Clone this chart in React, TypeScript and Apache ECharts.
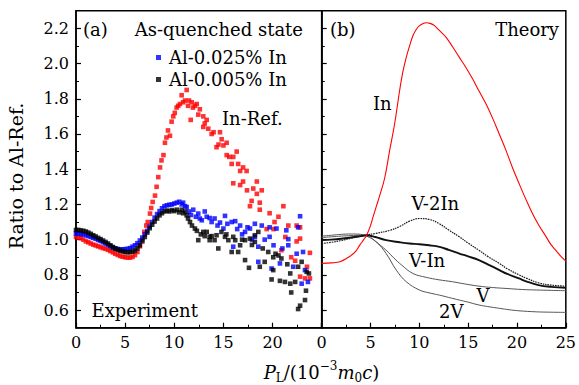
import React, { useEffect, useRef } from "react";
import * as echarts from "echarts";

const SERIF = "DejaVu Serif";

// ---- axis ticks ----
const xMajor = [0, 5, 10, 15, 20, 25];
const yMajor = [0.6, 0.8, 1.0, 1.2, 1.4, 1.6, 1.8, 2.0, 2.2];
const yMinor = [0.7, 0.9, 1.1, 1.3, 1.5, 1.7, 1.9, 2.1];

// ---- panel (a): experiment ----
const redPoints: number[][] = [
  [0, 1.015], [0.25, 1.012], [0.5, 1.008], [0.75, 1.0], [1.0, 0.99], [1.25, 0.985], [1.5, 0.978], [1.75, 0.972],
  [2.0, 0.967], [2.25, 0.962], [2.5, 0.957], [2.75, 0.952], [3.0, 0.948], [3.25, 0.942], [3.5, 0.935], [3.75, 0.928],
  [4.0, 0.92], [4.25, 0.913], [4.5, 0.907], [4.75, 0.903], [5.0, 0.9], [5.25, 0.898], [5.5, 0.898], [5.75, 0.902],
  [6.0, 0.912], [6.25, 0.93], [6.5, 0.962], [6.75, 1.0], [6.95, 1.044], [7.15, 1.08], [7.3, 1.1], [7.53, 1.148],
  [7.65, 1.18], [7.8, 1.214], [8.04, 1.25], [8.2, 1.3], [8.37, 1.355], [8.55, 1.41], [8.7, 1.45], [8.9, 1.48],
  [9.05, 1.55], [9.2, 1.58], [9.36, 1.62], [9.56, 1.59], [9.73, 1.67], [9.9, 1.7], [10.05, 1.72], [10.24, 1.75],
  [10.4, 1.76], [10.58, 1.77], [10.75, 1.82], [10.9, 1.78], [11.09, 1.79], [11.26, 1.85], [11.4, 1.76], [11.5, 1.79],
  [11.67, 1.68], [11.77, 1.78], [11.9, 1.75], [12.1, 1.76], [12.28, 1.77], [12.44, 1.71], [12.6, 1.74], [12.95, 1.7],
  [12.95, 1.64], [13.1, 1.66], [13.3, 1.68], [13.46, 1.63], [13.8, 1.6], [14.0, 1.61], [14.3, 1.525], [14.5, 1.54],
  [14.65, 1.61], [14.82, 1.57], [15.0, 1.535], [15.33, 1.55], [15.33, 1.48], [15.6, 1.47], [16.0, 1.47], [16.35, 1.5],
  [15.84, 1.43], [16.5, 1.43], [16.7, 1.39], [17.0, 1.41], [17.36, 1.39], [16.0, 1.32], [17.0, 1.33], [16.7, 1.31],
  [17.4, 1.28], [18.04, 1.29], [18.4, 1.33], [18.9, 1.28], [18.4, 1.26], [17.87, 1.22], [18.7, 1.21], [17.7, 1.19],
  [18.7, 1.17], [19.4, 1.06], [19.7, 1.15], [20.1, 1.06], [20.2, 1.1], [20.6, 1.13], [21.1, 1.19], [21.3, 1.015],
  [21.6, 1.08], [20.9, 0.94], [21.9, 0.9], [22.3, 0.88], [22.45, 0.99], [22.45, 1.08], [22.8, 1.07], [22.8, 1.006],
  [22.8, 0.79], [23.3, 0.78], [23.5, 0.846], [23.8, 0.925], [23.8, 0.78],
];

const bluePoints: number[][] = [
  [0, 1.035], [0.25, 1.034], [0.5, 1.032], [0.75, 1.03], [1.0, 1.025], [1.25, 1.02], [1.5, 1.015], [1.75, 1.01],
  [2.0, 1.005], [2.25, 0.998], [2.5, 0.992], [2.75, 0.985], [3.0, 0.978], [3.25, 0.97], [3.5, 0.963], [3.75, 0.956],
  [4.0, 0.95], [4.25, 0.947], [4.5, 0.945], [4.75, 0.945], [5.0, 0.946], [5.25, 0.948], [5.5, 0.952], [5.75, 0.96],
  [6.0, 0.968], [6.25, 0.98], [6.5, 0.995], [6.75, 1.012], [7.0, 1.03], [7.25, 1.05], [7.5, 1.075], [7.75, 1.1],
  [8.0, 1.125], [8.25, 1.145], [8.5, 1.162], [8.75, 1.178], [9.0, 1.19], [9.25, 1.195], [9.5, 1.198], [9.75, 1.2],
  [10.0, 1.205], [10.25, 1.21], [10.5, 1.215], [10.75, 1.2], [10.9, 1.21], [11.1, 1.19], [11.26, 1.185], [11.5, 1.16],
  [11.7, 1.14], [11.93, 1.17], [12.2, 1.13], [12.44, 1.148], [12.6, 1.12], [12.8, 1.11], [13.1, 1.16], [13.3, 1.13],
  [13.6, 1.123], [13.8, 1.1], [14.1, 1.12], [14.4, 1.08], [14.65, 1.097], [15.0, 1.063], [15.16, 1.135], [15.4, 1.09],
  [15.84, 1.1], [16.0, 0.96], [16.2, 1.105], [16.4, 1.06], [16.7, 1.08], [16.9, 1.03], [17.2, 1.044], [17.45, 1.07],
  [17.7, 1.063], [17.9, 1.0], [18.2, 1.09], [18.2, 1.016], [18.55, 0.96], [18.55, 0.874], [18.9, 1.08], [19.2, 1.0],
  [19.7, 1.07], [19.7, 1.016], [19.9, 0.836], [20.1, 0.968], [20.4, 1.063], [20.75, 0.865], [21.0, 0.95], [21.4, 1.053],
  [21.6, 1.003], [21.6, 0.968], [22.1, 0.846], [22.45, 0.92], [22.6, 1.07], [22.8, 1.133], [22.96, 0.75], [23.1, 0.93],
  [23.3, 0.827], [23.6, 0.76],
];

const blackPoints: number[][] = [
  [0, 1.055], [0.25, 1.055], [0.5, 1.052], [0.75, 1.05], [1.0, 1.046], [1.25, 1.04], [1.5, 1.033], [1.75, 1.025],
  [2.0, 1.018], [2.25, 1.01], [2.5, 1.003], [2.75, 0.995], [3.0, 0.987], [3.25, 0.978], [3.5, 0.968], [3.75, 0.958],
  [4.0, 0.95], [4.25, 0.943], [4.5, 0.937], [4.75, 0.933], [5.0, 0.93], [5.25, 0.928], [5.5, 0.929], [5.75, 0.932],
  [6.0, 0.938], [6.25, 0.95], [6.5, 0.968], [6.75, 0.99], [7.0, 1.015], [7.25, 1.04], [7.5, 1.065], [7.75, 1.085],
  [8.0, 1.103], [8.25, 1.12], [8.5, 1.138], [8.75, 1.15], [9.0, 1.16], [9.25, 1.165], [9.5, 1.16], [9.75, 1.168],
  [10.0, 1.162], [10.25, 1.17], [10.5, 1.155], [10.75, 1.17], [10.9, 1.15], [11.1, 1.16], [11.26, 1.138], [11.4, 1.12],
  [11.6, 1.1], [11.8, 1.08], [12.1, 1.063], [12.3, 1.05], [12.44, 0.997], [12.7, 1.03], [12.95, 1.044], [13.1, 1.02],
  [13.3, 1.044], [13.6, 1.016], [13.6, 0.997], [13.8, 1.02], [14.1, 0.997], [14.3, 1.025], [14.48, 0.95], [14.8, 1.044],
  [15.16, 1.016], [15.3, 1.03], [15.5, 0.997], [15.84, 0.93], [16.0, 1.016], [16.2, 0.997], [16.5, 0.93], [16.7, 0.968],
  [16.9, 1.0], [17.2, 0.997], [17.2, 0.884], [17.6, 0.84], [17.7, 1.006], [17.9, 0.97], [18.2, 0.987], [18.2, 1.025],
  [18.55, 1.044], [18.7, 0.846], [19.0, 0.95], [19.2, 0.874], [19.56, 0.93], [19.9, 0.774], [20.07, 0.9], [20.07, 0.827],
  [20.3, 0.92], [20.6, 0.91], [20.75, 0.766], [20.9, 0.893], [21.26, 0.76], [21.5, 0.86], [21.8, 0.75], [21.8, 0.808],
  [21.9, 0.7], [22.3, 0.76], [22.6, 0.846], [22.6, 0.606], [22.8, 0.625], [22.96, 0.874], [23.3, 0.657], [23.4, 0.71],
  [23.47, 0.817], [23.7, 0.808],
];

// ---- panel (b): theory ----
const inCurve: number[][] = [
  [0, 0.865], [1, 0.868], [1.87, 0.874], [2.9, 0.906], [3.5, 0.935], [3.9, 0.969], [4.3, 1.0], [4.6, 1.025],
  [5.0, 1.08], [5.26, 1.129], [5.6, 1.19], [5.94, 1.25], [6.45, 1.35], [6.96, 1.507], [7.47, 1.658], [7.98, 1.847],
  [8.3, 1.95], [8.66, 2.035], [9.0, 2.1], [9.34, 2.158], [9.7, 2.195], [10.02, 2.215], [10.4, 2.228], [10.7, 2.232],
  [11.1, 2.228], [11.55, 2.215], [12.1, 2.185], [12.74, 2.149], [13.4, 2.095], [14.1, 2.035], [14.8, 1.975], [15.45, 1.913],
  [16.1, 1.845], [16.82, 1.771], [17.5, 1.69], [18.18, 1.6], [18.85, 1.51], [19.53, 1.41], [20.2, 1.32], [20.9, 1.23],
  [21.57, 1.15], [22.25, 1.08], [22.94, 1.02], [23.5, 0.97], [23.96, 0.94], [24.5, 0.905], [25, 0.878],
];
const v2InCurve: number[][] = [
  [0, 0.978], [1, 0.985], [2, 0.995], [3, 1.008], [4, 1.02], [4.6, 1.027], [5.5, 1.035], [7, 1.053], [8, 1.075],
  [9, 1.105], [10, 1.12], [11, 1.115], [12.06, 1.09], [13, 1.055], [14.1, 1.016], [15, 0.98], [16.1, 0.94], [17, 0.905],
  [18.2, 0.865], [19, 0.835], [20.2, 0.8], [21, 0.78], [22.2, 0.755], [23.5, 0.742], [25, 0.736],
];
const vInCurve: number[][] = [
  [0, 0.997], [1, 1.0], [2, 1.005], [3, 1.012], [4, 1.02], [4.6, 1.025], [5.5, 1.015], [6.6, 0.997], [8, 0.985],
  [9, 0.978], [10, 0.974], [11, 0.968], [12.06, 0.959], [13, 0.942], [14.1, 0.921], [15, 0.905], [16.1, 0.884], [17, 0.86],
  [18.2, 0.827], [19, 0.805], [20.2, 0.78], [21, 0.762], [22.2, 0.742], [23.5, 0.732], [25, 0.727],
];
const vCurve: number[][] = [
  [0, 1.012], [1, 1.016], [2, 1.02], [3, 1.023], [4, 1.025], [4.6, 1.025], [5.5, 0.99], [6.6, 0.94], [7.4, 0.895],
  [8.2, 0.855], [9.34, 0.808], [10.7, 0.786], [12, 0.772], [13.4, 0.761], [14.7, 0.748], [16.1, 0.736], [17.5, 0.728],
  [18.86, 0.723], [20.5, 0.717], [22, 0.714], [23.5, 0.712], [25, 0.71],
];
const v2Curve: number[][] = [
  [0, 1.02], [1, 1.025], [2, 1.03], [3, 1.032], [4, 1.03], [4.6, 1.02], [5.6, 0.987], [6.6, 0.921], [7.64, 0.827],
  [8.66, 0.761], [10.0, 0.714], [11, 0.698], [12.06, 0.685], [13, 0.672], [14.1, 0.657], [15, 0.645], [16.1, 0.629],
  [17, 0.62], [18.2, 0.61], [19.2, 0.602], [20.2, 0.596], [22, 0.59], [23.5, 0.588], [25, 0.587],
];

const seriesNames = ["In-Ref.", "Al-0.025% In", "Al-0.005% In"];

function xAxisOf(grid: number, hideLast: boolean) {
  return {
    gridIndex: grid,
    type: "value",
    min: 0,
    max: 25,
    interval: 5,
    axisLine: { show: true, onZero: false, lineStyle: { color: "#000", width: 1.5 } },
    axisTick: { show: true, inside: true, length: 5, lineStyle: { color: "#000", width: 1.2 } },
    minorTick: { show: true, splitNumber: 2, length: 3, lineStyle: { color: "#000", width: 1 } },
    axisLabel: {
      color: "#000",
      fontFamily: SERIF,
      fontSize: 16,
      margin: 7,
      formatter: (v: number) => (hideLast && v === 25 ? "" : String(v)),
    },
    splitLine: { show: false },
    minorSplitLine: { show: false },
  };
}

function yAxesOf(grid: number, labels: boolean) {
  return [
    {
      gridIndex: grid,
      type: "value",
      position: "left",
      min: 0.5,
      max: 2.3,
      axisLine: { show: true, onZero: false, lineStyle: { color: "#000", width: 1.5 } },
      axisTick: { show: true, inside: true, length: 5, customValues: yMajor, lineStyle: { color: "#000", width: 1.2 } },
      axisLabel: {
        show: labels,
        customValues: yMajor,
        color: "#000",
        fontFamily: SERIF,
        fontSize: 16,
        margin: 7,
        formatter: (v: number) => v.toFixed(1),
      },
      splitLine: { show: false },
    },
    {
      gridIndex: grid,
      type: "value",
      position: "left",
      min: 0.5,
      max: 2.3,
      axisLine: { show: false },
      axisTick: { show: true, inside: true, length: 3, customValues: yMinor, lineStyle: { color: "#000", width: 1 } },
      axisLabel: { show: false },
      splitLine: { show: false },
    },
  ];
}

function label(text: string, x: number, y: number, align: string = "left", size = 18) {
  return {
    type: "text",
    x,
    y,
    silent: true,
    style: {
      text,
      fill: "#000",
      fontFamily: SERIF,
      fontSize: size,
      textAlign: align,
      align,
      textVerticalAlign: "middle",
      verticalAlign: "middle",
    },
  };
}

export default function App() {
  const ref = useRef<HTMLDivElement>(null);
  useEffect(() => {
    if (!ref.current) return;
    document.body.style.margin = "0";
    const chart = echarts.init(ref.current, undefined, { renderer: "svg" });
    const lineSeries = (data: number[][], color: string, width: number, type: any = "solid") => ({
      type: "line",
      xAxisIndex: 1,
      yAxisIndex: 2,
      data,
      smooth: 0.4,
      showSymbol: false,
      symbol: "none",
      lineStyle: { color, width, type },
      silent: true,
    });
    const scatter = (name: string, data: number[][], color: string) => ({
      name,
      type: "scatter",
      xAxisIndex: 0,
      yAxisIndex: 0,
      data,
      symbol: "rect",
      symbolSize: 4.6,
      itemStyle: { color },
      silent: true,
    });
    const option: any = {
      animation: false,
      backgroundColor: "#fff",
      textStyle: { fontFamily: SERIF },
      grid: [
        { left: 76, top: 10.7, width: 245.7, height: 317, show: true, borderColor: "#000", borderWidth: 1.5, backgroundColor: "transparent" },
        { left: 321.7, top: 10.7, width: 245.3, height: 317, show: true, borderColor: "#000", borderWidth: 1.5, backgroundColor: "transparent" },
      ],
      xAxis: [xAxisOf(0, true), xAxisOf(1, false)],
      yAxis: [...yAxesOf(0, true), ...yAxesOf(1, false)],
      legend: {
        data: [seriesNames[1], seriesNames[2]],
        orient: "vertical",
        left: 151,
        top: 43.5,
        itemWidth: 5,
        itemHeight: 5,
        itemGap: 4,
        icon: "rect",
        selectedMode: false,
        textStyle: { color: "#000", fontFamily: SERIF, fontSize: 18, padding: [0, 0, 0, 3] },
      },
      series: [
        scatter(seriesNames[0], redPoints, "#ff0000"),
        scatter(seriesNames[1], bluePoints, "#0000ff"),
        scatter(seriesNames[2], blackPoints, "#000000"),
        lineSeries(v2Curve, "#555", 1),
        lineSeries(vCurve, "#555", 1),
        lineSeries(vInCurve, "#111", 1.9),
        lineSeries(v2InCurve, "#1a1a1a", 1.2, [1.6, 0.9]),
        lineSeries(inCurve, "#ff0000", 1.1),
      ],
      graphic: [
        label("(a)", 83, 29),
        label("As-quenched state", 303, 29, "right"),
        label("In-Ref.", 222, 118),
        label("Experiment", 91.5, 310),
        label("(b)", 330, 29),
        label("Theory", 559, 29, "right"),
        label("In", 373, 103),
        label("V-2In", 411.5, 203),
        label("V-In", 409, 260),
        label("V", 476.5, 295),
        label("2V", 439, 311.5),
        {
          type: "text",
          x: 16,
          y: 176,
          rotation: Math.PI / 2,
          silent: true,
          style: {
            text: "Ratio to Al-Ref.",
            fill: "#000",
            fontFamily: SERIF,
            fontSize: 19,
            textAlign: "center",
            align: "center",
            textVerticalAlign: "middle",
            verticalAlign: "middle",
          },
        },
        {
          type: "text",
          x: 321.5,
          y: 372,
          silent: true,
          style: {
            text: "{i|P}{s|L}{n|/(10}{p|\u22123}{i|m}{s|0}{i|c}{n|)}",
            fill: "#000",
            fontFamily: SERIF,
            fontSize: 18,
            textAlign: "center",
            align: "center",
            textVerticalAlign: "middle",
            verticalAlign: "middle",
            rich: {
              n: { fontFamily: SERIF, fontSize: 18, lineHeight: 24, fill: "#000", color: "#000" },
              i: { fontFamily: SERIF, fontSize: 18, lineHeight: 24, fontStyle: "italic", fill: "#000", color: "#000" },
              s: { fontFamily: SERIF, fontSize: 12, lineHeight: 15, verticalAlign: "bottom", fill: "#000", color: "#000" },
              p: { fontFamily: SERIF, fontSize: 12, lineHeight: 15, verticalAlign: "top", fill: "#000", color: "#000" },
            },
          },
        },
      ],
    };
    chart.setOption(option);
    return () => chart.dispose();
  }, []);
  return <div ref={ref} style={{ width: 579, height: 385 }} />;
}
